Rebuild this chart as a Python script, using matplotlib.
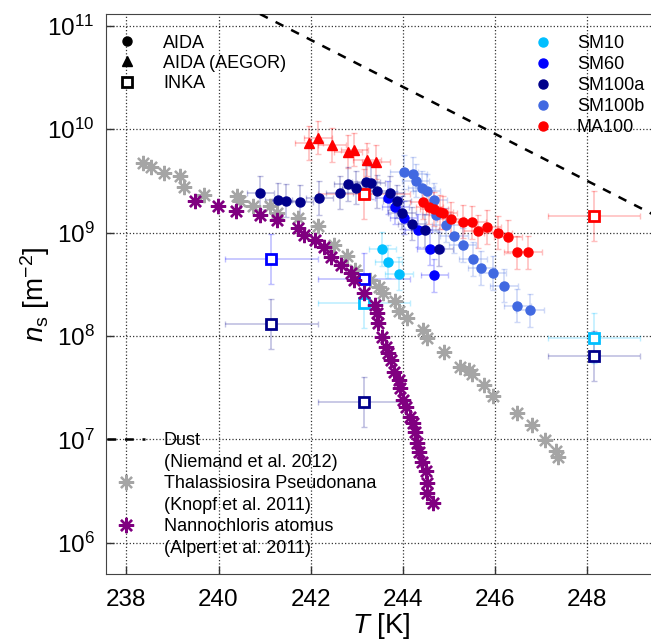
import numpy as np
import matplotlib
matplotlib.use("Agg")
import matplotlib.pyplot as plt
from matplotlib.lines import Line2D

plt.rcParams['font.family'] = ['Liberation Sans', 'DejaVu Sans']
plt.rcParams['mathtext.fontset'] = 'custom'
plt.rcParams['mathtext.rm'] = 'Liberation Sans'
plt.rcParams['mathtext.it'] = 'Liberation Sans:italic'

# ---- data (T in K, ns in m^-2) ----
dust_T = [240.9, 249.5]
dust_ns = [1.30e11, 1.45e9]

thal_T = [238.36, 238.54, 238.81, 239.16, 239.26, 239.69, 240.40, 240.47, 240.75, 241.11,
          241.28, 241.72, 242.17, 242.50, 242.79, 242.97, 243.29, 243.49, 243.57, 243.84,
          243.92, 244.09, 244.45, 244.52, 244.90, 245.25, 245.43, 245.50, 245.77, 245.95,
          246.48, 246.81, 247.09, 247.33, 247.37]
thal_ns = [4.76e9, 4.35e9, 3.76e9, 3.56e9, 2.79e9, 2.29e9, 2.27e9, 2.0e9, 1.79e9, 1.79e9,
           1.56e9, 1.38e9, 1.15e9, 7.62e8, 5.97e8, 4.37e8, 3.49e8, 3.01e8, 2.60e8, 2.20e8,
           1.73e8, 1.49e8, 1.15e8, 9.55e7, 7.08e7, 5.0e7, 4.71e7, 4.30e7, 3.37e7, 2.64e7,
           1.81e7, 1.38e7, 9.9e6, 7.76e6, 6.8e6]

nanno_T = [239.48, 239.98, 240.37, 240.90, 241.28, 241.72, 241.86, 242.10, 242.30, 242.44,
           242.66, 242.87, 242.95, 243.15, 243.40, 243.44, 243.47, 243.55, 243.64, 243.69,
           243.74, 243.80, 243.92, 243.94, 244.00, 244.07, 244.15, 244.22, 244.27, 244.31,
           244.36, 244.41, 244.51, 244.52, 244.52, 244.65]
nanno_ns = [2.04e9, 1.80e9, 1.62e9, 1.48e9, 1.31e9, 1.12e9, 9.53e8, 8.51e8, 7.24e8, 5.87e8,
            4.89e8, 4.06e8, 3.49e8, 2.60e8, 2.00e8, 1.66e8, 1.33e8, 9.89e7, 7.91e7, 6.84e7,
            5.89e7, 4.54e7, 3.77e7, 3.13e7, 2.42e7, 2.08e7, 1.66e7, 1.44e7, 1.19e7, 9.21e6,
            7.64e6, 6.11e6, 4.90e6, 3.78e6, 3.03e6, 2.42e6]

sm10_T = [243.56, 243.69, 243.92]
sm10_ns = [6.97e8, 5.25e8, 4.0e8]

sm60_T = [243.69, 243.84, 244.02, 244.34, 244.60, 244.69]
sm60_ns = [2.18e9, 1.75e9, 1.40e9, 1.05e9, 7.02e8, 3.85e8]

sm100a_T = [240.91, 241.30, 241.47, 241.76, 242.19, 242.63, 242.81, 242.98, 243.20, 243.31,
            243.44, 243.73, 243.87, 243.99, 244.20, 244.49, 244.79]
sm100a_ns = [2.44e9, 2.07e9, 2.04e9, 1.99e9, 2.16e9, 2.44e9, 2.94e9, 2.73e9, 3.12e9, 3.05e9,
             2.50e9, 2.41e9, 2.0e9, 1.56e9, 1.22e9, 1.05e9, 6.97e8]

sm100b_T = [244.03, 244.23, 244.28, 244.41, 244.52, 244.67, 244.72, 244.94, 245.12, 245.30,
            245.53, 245.71, 245.95, 246.20, 246.49, 246.76]
sm100b_ns = [3.85e9, 3.68e9, 3.17e9, 2.73e9, 2.54e9, 2.07e9, 1.49e9, 1.18e9, 9.25e8, 7.62e8,
             5.58e8, 4.54e8, 4.06e8, 3.06e8, 1.96e8, 1.77e8]

ma100_T = [244.45, 244.58, 244.68, 244.80, 244.88, 245.04, 245.30, 245.50, 245.63, 245.84,
           246.07, 246.29, 246.49, 246.73]
ma100_ns = [1.97e9, 1.77e9, 1.69e9, 1.58e9, 1.56e9, 1.35e9, 1.28e9, 1.26e9, 1.03e9, 1.13e9,
            1.0e9, 9.16e8, 6.43e8, 6.43e8]

aegor_T = [241.97, 242.16, 242.47, 242.81, 242.95, 243.22, 243.42]
aegor_ns = [7.38e9, 8.26e9, 7.06e9, 6.08e9, 6.32e9, 5.06e9, 4.81e9]

inka_T = [241.15, 241.15, 243.15, 243.16, 243.15, 243.16, 248.16, 248.16, 248.15]
inka_ns = [5.55e8, 1.30e8, 2.37e9, 3.60e8, 2.08e8, 2.31e7, 1.45e9, 9.55e7, 6.43e7]
inka_series = ['SM60', 'SM100a', 'MA100', 'SM60', 'SM10', 'SM100a', 'MA100', 'SM10', 'SM100a']

aida_Terr = 0.3
aida_nfac = 1.45
inka_Terr = 1.0
inka_nfac = 1.75

colors = {'SM10': '#00bfff', 'SM60': '#0000ff', 'SM100a': '#00008b',
          'SM100b': '#4169e1', 'MA100': '#ff0000'}
star = (8, 2, 0)

fig = plt.figure(figsize=(6.51, 6.44), dpi=100)
ax = fig.add_axes([105.7 / 651, 70 / 644, 550.3 / 651, 560 / 644])
ax.set_yscale('log')


def errs(T, n, terr, fac, c):
    n = np.array(n)
    ax.errorbar(T, n, xerr=terr, yerr=[n - n / fac, n * fac - n], fmt='none',
                ecolor=c, alpha=0.25, elinewidth=1.2, capsize=2.5, zorder=2)


# INKA squares
for T, n, s in zip(inka_T, inka_ns, inka_series):
    errs([T], [n], inka_Terr, inka_nfac, colors[s])
    ax.plot(T, n, 's', mfc='white', mec=colors[s], mew=2, ms=7.5, zorder=4)

# literature
ax.plot(dust_T, dust_ns, color='k', ls=(0, (3.5, 3.5)), lw=1.8, zorder=3)
ax.plot(thal_T, thal_ns, ls='none', marker=star, ms=11, mew=1.6, color='#a5a5a5', zorder=3)
ax.plot(nanno_T, nanno_ns, ls='none', marker=star, ms=11, mew=1.7, color='#800080', zorder=5)

# AIDA
for T, n, s in [(sm10_T, sm10_ns, 'SM10'), (sm60_T, sm60_ns, 'SM60'),
                (sm100a_T, sm100a_ns, 'SM100a'), (sm100b_T, sm100b_ns, 'SM100b'),
                (ma100_T, ma100_ns, 'MA100')]:
    errs(T, n, aida_Terr, aida_nfac, colors[s])
    ax.plot(T, n, 'o', color=colors[s], ms=6.5, zorder=6)
errs(aegor_T, aegor_ns, aida_Terr, aida_nfac, colors['MA100'])
ax.plot(aegor_T, aegor_ns, '^', color=colors['MA100'], ms=7, zorder=6)

ax.set_xlim(237.55, 249.5)
ax.set_ylim(5e5, 1.3e11)
ax.set_xticks([238, 240, 242, 244, 246, 248])
ax.set_yticks([1e6, 1e7, 1e8, 1e9, 1e10, 1e11])
ax.yaxis.set_minor_locator(matplotlib.ticker.NullLocator())
ax.grid(True, ls=':', color='k', lw=0.9, alpha=0.8)
ax.tick_params(direction='in', length=6, width=1, labelsize=17.5, colors='#333333',
               labelcolor='k')
ax.tick_params(axis='x', pad=11)
ax.tick_params(axis='y', pad=8)
for sp in ax.spines.values():
    sp.set_color('#444444')
ax.set_xlabel('$T$ [K]', fontsize=20, labelpad=0)
ax.set_ylabel(r'$n_\mathrm{s}$ [m$^{-2}$]', fontsize=20)
ax.yaxis.set_label_coords(-0.098, 0.5)

# legends
h1 = [Line2D([], [], ls='none', marker='o', color='k', ms=6.5),
      Line2D([], [], ls='none', marker='^', color='k', ms=7),
      Line2D([], [], ls='none', marker='s', mfc='white', mec='k', mew=2, ms=6.5)]
leg1 = ax.legend(h1, ['AIDA', 'AIDA (AEGOR)', 'INKA'], loc='upper left',
                 bbox_to_anchor=(0.022, 0.963), frameon=False, fontsize=13, borderpad=0,
                 borderaxespad=0, handlelength=1.0, handletextpad=1.5, labelspacing=0.17)
ax.add_artist(leg1)

names = ['SM10', 'SM60', 'SM100a', 'SM100b', 'MA100']
h2 = [Line2D([], [], ls='none', marker='o', color=colors[s], ms=6.5) for s in names]
leg2 = ax.legend(h2, names, loc='upper left', bbox_to_anchor=(0.778, 0.962),
                 frameon=False, fontsize=13, borderpad=0, borderaxespad=0,
                 handlelength=1.0, handletextpad=1.39, labelspacing=0.22)
ax.add_artist(leg2)

blank = Line2D([], [], ls='none')
h3 = [Line2D([], [], color='k', ls=(0, (3.5, 3.5)), lw=1.8), blank,
      Line2D([], [], ls='none', marker=star, ms=11, mew=1.6, color='#a5a5a5'), blank,
      Line2D([], [], ls='none', marker=star, ms=11, mew=1.7, color='#800080'), blank]
l3 = ['Dust', '(Niemand et al. 2012)', 'Thalassiosira Pseudonana', '(Knopf et al. 2011)',
      'Nannochloris atomus', '(Alpert et al. 2011)']
ax.legend(h3, l3, loc='upper left', bbox_to_anchor=(0.0024, 0.253), frameon=False,
          fontsize=13, borderpad=0, borderaxespad=0, handlelength=2.1,
          handletextpad=1.03, labelspacing=0.25)

fig.savefig('out.png', dpi=100)
